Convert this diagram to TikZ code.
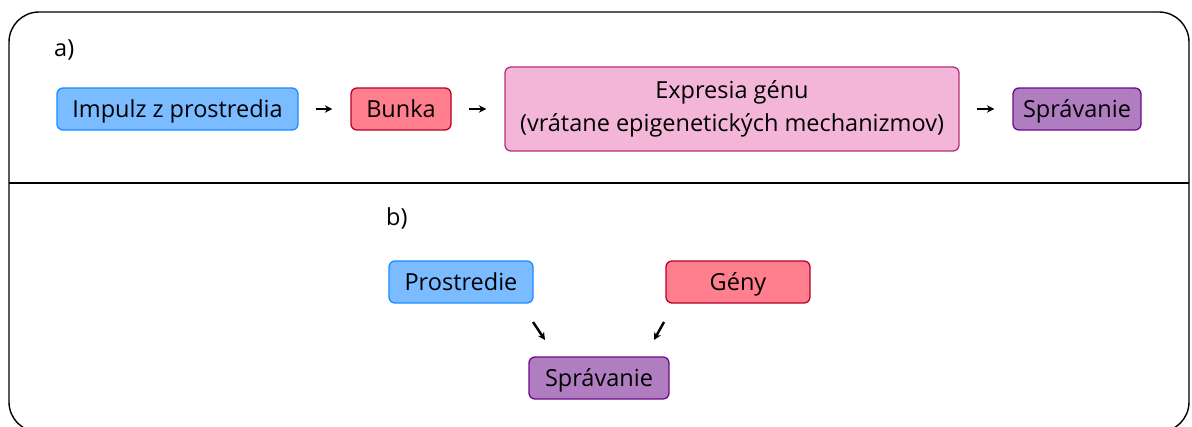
\documentclass[tikz,border=0pt]{standalone}
\usepackage{fontspec}
\setmainfont{Open Sans}
\usetikzlibrary{arrows.meta}
\definecolor{blueF}{HTML}{7BBBFF}
\definecolor{blueD}{HTML}{1A8CFF}
\definecolor{redF}{HTML}{FF7F8E}
\definecolor{redD}{HTML}{B8002A}
\definecolor{pinkF}{HTML}{F3B6D8}
\definecolor{pinkD}{HTML}{B8307A}
\definecolor{purpF}{HTML}{B07EC0}
\definecolor{purpD}{HTML}{6E0A8A}
\tikzset{
  box/.style={rounded corners=6pt, line width=1.3pt, minimum height=42pt,
    inner sep=0pt, align=center, font=\fontsize{23.5}{33}\selectfont, text=black},
  oneline/.style={text height=20pt, text depth=4pt},
  bluebox/.style={box, oneline, fill=blueF, draw=blueD},
  redbox/.style={box, oneline, fill=redF, draw=redD},
  pinkbox/.style={box, fill=pinkF, draw=pinkD},
  purpbox/.style={box, oneline, fill=purpF, draw=purpD},
  arr/.style={-{Stealth[length=7.5pt,width=7.5pt]}, line width=2.4pt, black},
  lbl/.style={anchor=west, inner sep=0pt, font=\fontsize{23.5}{28}\selectfont}
}
\begin{document}
\begin{tikzpicture}[x=1pt,y=-1pt]
\useasboundingbox (0,0) rectangle (1192,426);
\begin{scope}
\clip (0,0) rectangle (1192,426);
\draw[line width=1.4pt, rounded corners=30pt] (9,12) rectangle (1189,432);
\end{scope}
\draw[line width=2pt] (9,183) -- (1189,183);

% part a
\node[lbl] (la) at (54,50) {a)};
\node[bluebox, minimum width=241pt] (imp) at (177.5,109) {Impulz z prostredia};
\node[redbox, minimum width=100pt] (bun) at (401,109) {Bunka};
\node[pinkbox, minimum width=454pt, minimum height=84pt] (exp) at (732,109) {Expresia génu\\(vrátane epigenetických mechanizmov)};
\node[purpbox, minimum width=128pt] (spr) at (1077,109) {Správanie};
\draw[arr, shorten <=17pt, shorten >=18pt] (imp.east) -- (bun.west);
\draw[arr, shorten <=17pt, shorten >=18pt] (bun.east) -- (exp.west);
\draw[arr, shorten <=17pt, shorten >=18pt] (exp.east) -- (spr.west);

% part b
\node[lbl] (lb) at (386,218) {b)};
\node[bluebox, minimum width=144pt] (pro) at (461,282) {Prostredie};
\node[redbox, minimum width=144pt] (gen) at (738,282) {Gény};
\node[purpbox, minimum width=140pt] (spb) at (599,378) {Správanie};
\coordinate (p1) at (533,322);
\coordinate (p2) at (545,340);
\coordinate (g1) at (664,322);
\coordinate (g2) at (654,340);
\draw[arr] (p1) -- (p2);
\draw[arr] (g1) -- (g2);
\end{tikzpicture}
\end{document}
